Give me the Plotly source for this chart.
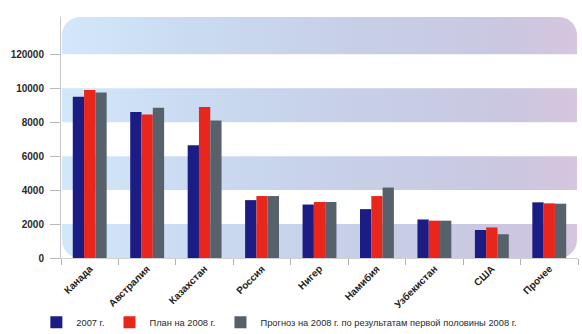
import numpy as np
import plotly.graph_objects as go

# Uranium production by country, tonnes
countries = ["Канада", "Австралия", "Казахстан", "Россия", "Нигер",
             "Намибия", "Узбекистан", "США", "Прочее"]
prod_2007 = [9500, 8600, 6640, 3410, 3150, 2880, 2270, 1650, 3280]
plan_2008 = [9900, 8450, 8900, 3650, 3300, 3650, 2200, 1800, 3220]
forecast_2008 = [9750, 8850, 8100, 3650, 3300, 4150, 2200, 1400, 3200]

series_names = ["2007 г.", "План на 2008 г.",
                "Прогноз на 2008 г. по результатам первой половины 2008 г."]
series_colors = ["#1b1c84", "#e8261b", "#56616b"]

y_tickvals = [0, 2000, 4000, 6000, 8000, 10000, 12000]
y_ticktext = ["0", "2000", "4000", "6000", "8000", "10000", "120000"]

Y_TOP = 14200
# shaded stripes: (bottom, top, round top corners, round bottom corners)
stripes = [(0, 2000, False, True), (4000, 6000, False, False),
           (8000, 10000, False, False), (12000, Y_TOP, True, False)]

band_scale = [[0.0, "#d3e7fa"], [0.25, "#cadbf1"], [0.55, "#c7d0e8"],
              [0.85, "#cac7e1"], [1.0, "#d6c5de"]]

PLOT_W = 517.0
PLOT_H = 241.0


def rounded_band(x0, x1, y0, y1, r_px, round_top, round_bottom):
    """Closed outline of a stripe with optional rounded corners."""
    rx = r_px / PLOT_W
    ry = r_px / PLOT_H * Y_TOP
    xs, ys = [], []
    t = np.linspace(0, np.pi / 2, 12)
    # bottom edge, left to right
    if round_bottom:
        xs += list(x0 + rx - rx * np.sin(t[::-1]))
        ys += list(y0 + ry - ry * np.cos(t[::-1]))
        xs += list(x1 - rx + rx * np.sin(t))
        ys += list(y0 + ry - ry * np.cos(t))
    else:
        xs += [x0, x1]
        ys += [y0, y0]
    # top edge, right to left
    if round_top:
        xs += list(x1 - rx + rx * np.cos(t))
        ys += list(y1 - ry + ry * np.sin(t))
        xs += list(x0 + rx - rx * np.sin(t))
        ys += list(y1 - ry + ry * np.cos(t))
    else:
        xs += [x1, x0]
        ys += [y1, y1]
    xs.append(xs[0])
    ys.append(ys[0])
    return xs, ys


fig = go.Figure()

for y0, y1, rt, rb in stripes:
    bx, by = rounded_band(0.002, 0.998, y0, y1, 18, rt, rb)
    fig.add_trace(go.Scatter(
        x=bx, y=by, xaxis="x", yaxis="y", mode="none", fill="toself",
        fillgradient=dict(type="horizontal", colorscale=band_scale),
        hoverinfo="skip", showlegend=False))

for name, vals, color in zip(series_names,
                             [prod_2007, plan_2008, forecast_2008],
                             series_colors):
    fig.add_trace(go.Bar(
        x=countries, y=vals, name=name, xaxis="x2", yaxis="y",
        marker=dict(color=color, line=dict(width=0))))

fig.update_layout(
    width=582, height=334,
    margin=dict(l=61, r=4, t=17, b=76),
    paper_bgcolor="white", plot_bgcolor="white",
    barmode="group", bargap=0.41, bargroupgap=0,
    font=dict(family="Liberation Sans Narrow, Arial Narrow, Liberation Sans, Arial, sans-serif",
              color="#2a2a2a"),
    xaxis=dict(range=[0, 1], visible=False, fixedrange=True, automargin=False),
    xaxis2=dict(type="category", overlaying="x", side="bottom",
                automargin=False,
                showline=True, linecolor="#d0d0d0", linewidth=1,
                ticks="outside", tickson="boundaries", ticklen=6,
                tickcolor="#b0b0b0", tickangle=-45,
                tickfont=dict(size=10, color="#222222", weight="bold"),
                showgrid=False, zeroline=False),
    yaxis=dict(range=[0, Y_TOP], tickvals=y_tickvals, ticktext=y_ticktext,
               automargin=False,
               showgrid=False, zeroline=False, showline=True,
               linecolor="#c8c8c8", linewidth=1, ticks="outside",
               ticklen=10, tickcolor="#b8b8b8", ticklabelstandoff=4,
               tickfont=dict(size=10, color="#2a2a2a", weight="bold")),
    legend=dict(orientation="h", xref="container", yref="container",
                x=0.48, xanchor="center", y=0.035, yanchor="middle",
                bgcolor="rgba(0,0,0,0)",
                font=dict(size=9.3, color="#2a2a2a"), itemwidth=30,
                traceorder="normal"),
    showlegend=True,
)

fig.write_html("out.html")
